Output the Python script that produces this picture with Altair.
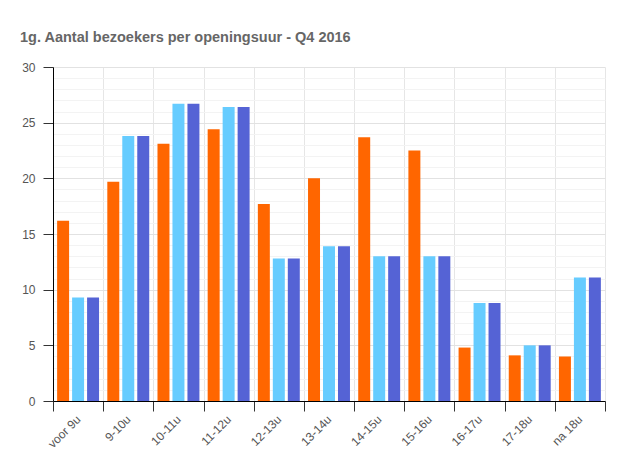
import altair as alt
import pandas as pd

categories = ["voor 9u", "9-10u", "10-11u", "11-12u", "12-13u", "13-14u",
              "14-15u", "15-16u", "16-17u", "17-18u", "na 18u"]
series_names = ["Reeks 1", "Reeks 2", "Reeks 3"]
orange_vals = [16.2, 19.7, 23.1, 24.4, 17.7, 20.0, 23.7, 22.5, 4.8, 4.1, 4.0]
light_vals = [9.3, 23.8, 26.7, 26.4, 12.8, 13.9, 13.0, 13.0, 8.8, 5.0, 11.1]
dark_vals = [9.3, 23.8, 26.7, 26.4, 12.8, 13.9, 13.0, 13.0, 8.8, 5.0, 11.1]
colors = ["#ff6600", "#66ccff", "#5563d5"]

rows = []
for i, c in enumerate(categories):
    for s, vals in zip(series_names, [orange_vals, light_vals, dark_vals]):
        rows.append({"uur": c, "reeks": s, "bezoekers": vals[i]})
df = pd.DataFrame(rows)

FONT = "Arial, Liberation Sans, sans-serif"
is_major = "datum.value % 5 === 0"

chart = alt.Chart(df).mark_bar().encode(
    x=alt.X("uur:N", sort=categories, title=None,
            scale=alt.Scale(paddingInner=0, paddingOuter=0),
            axis=alt.Axis(labelAngle=-45, labelAlign="right", labelBaseline="middle",
                          tickBand="extent", grid=True, gridColor="#e6e6e6",
                          domainColor="#000000", tickColor="#333333", tickSize=10,
                          labelPadding=6, labelColor="#555555", labelFontSize=12,
                          labelFont=FONT)),
    xOffset=alt.XOffset("reeks:N", sort=series_names,
                        scale=alt.Scale(paddingInner=0.2, paddingOuter=0.275)),
    y=alt.Y("bezoekers:Q", title=None,
            scale=alt.Scale(domain=[0, 30], nice=False),
            axis=alt.Axis(values=list(range(31)), labelOverlap=False,
                          labelExpr="datum.value % 5 === 0 ? datum.label : ''",
                          grid=True,
                          gridColor={"condition": {"test": is_major, "value": "#e2e2e2"}, "value": "#f3f3f3"},
                          tickOpacity={"condition": {"test": is_major, "value": 1}, "value": 0},
                          domainColor="#000000", tickColor="#333333", tickSize=10,
                          labelPadding=8, labelColor="#555555", labelFontSize=12,
                          labelFont=FONT)),
    color=alt.Color("reeks:N", sort=series_names,
                    scale=alt.Scale(domain=series_names, range=colors), legend=None),
).properties(
    width=552, height=334,
    title=alt.TitleParams("1g. Aantal bezoekers per openingsuur - Q4 2016",
                          anchor="start", frame="group", dx=-33, offset=16,
                          fontSize=14.5, fontWeight="bold", color="#666666", font=FONT),
    autosize="none",
    padding={"left": 45, "top": 59, "right": 11, "bottom": 54},
).configure_view(strokeWidth=0)

chart.save("out.html", embed_options={"renderer": "svg", "actions": False})
